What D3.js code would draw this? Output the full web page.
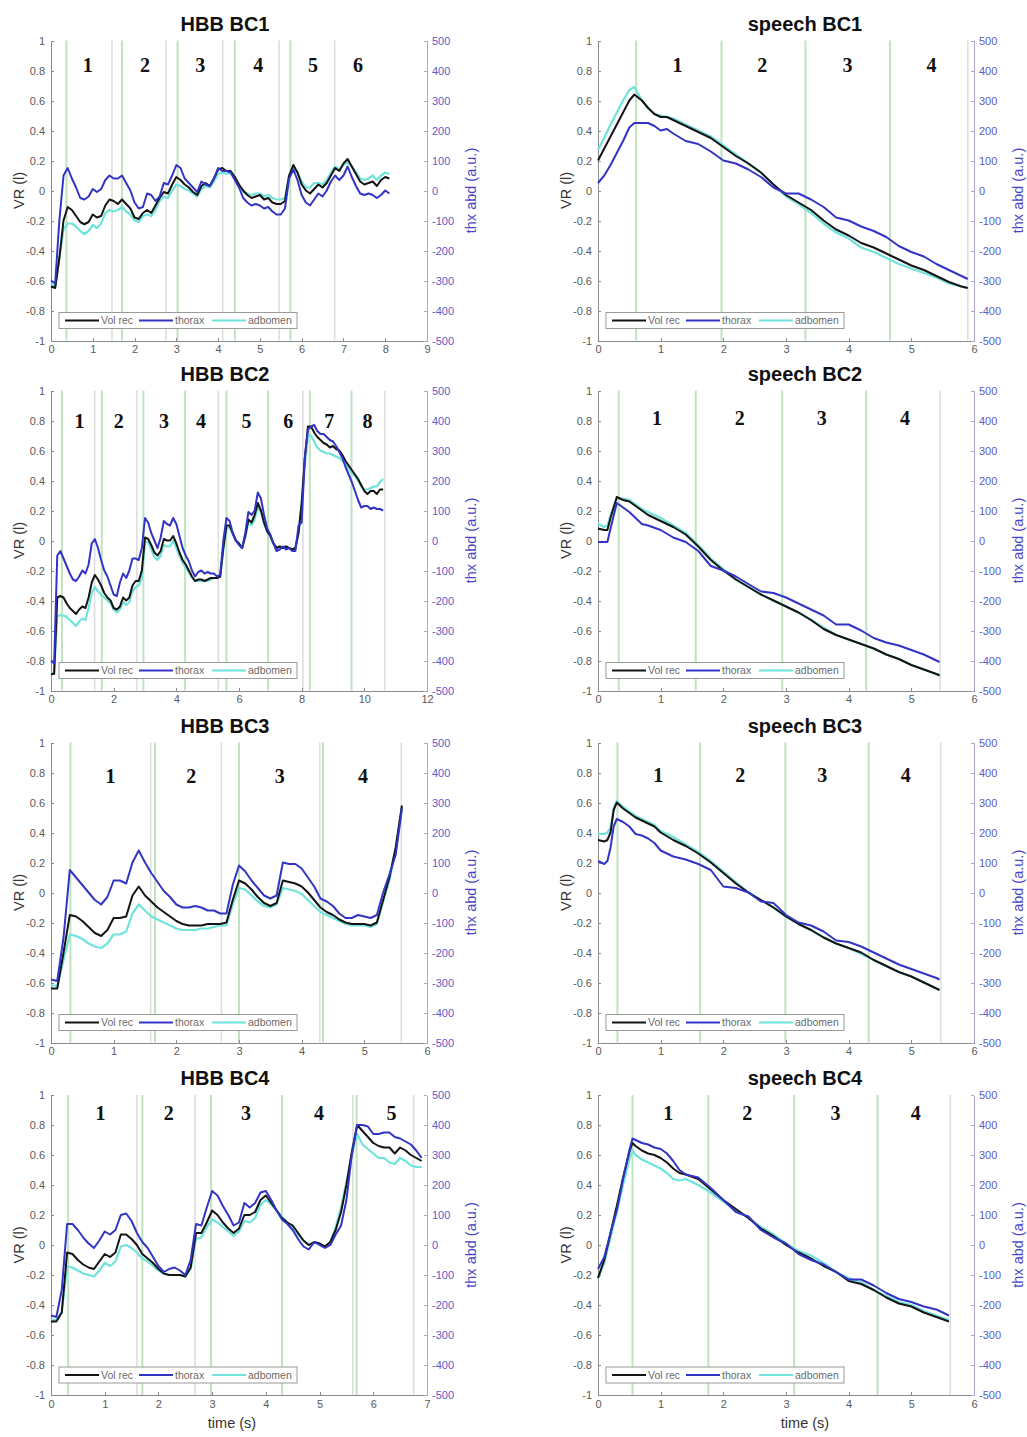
<!DOCTYPE html>
<meta charset="utf-8">
<style>

body {
  margin: 0;
  background: #fff;
  font-family: "Liberation Sans", Arial, sans-serif;
}

.axis path,
.axis line {
  fill: none;
  shape-rendering: crispEdges;
}

</style>
<body>
<script src="https://d3js.org/d3.v7.min.js"></script>
<script>

// ---- data (VR in litres on the left axis, thorax / abdomen in a.u. on the right axis) ----

var vrTicks = [-1, -0.8, -0.6, -0.4, -0.2, 0, 0.2, 0.4, 0.6, 0.8, 1];
var auTicks = [-500, -400, -300, -200, -100, 0, 100, 200, 300, 400, 500];
var seriesNames = ["Vol rec", "thorax", "adbomen"];

// HBB BC1, sampled every 0.1 s
var hbb1Vol = [-0.64, -0.65, -0.45, -0.2, -0.11, -0.13, -0.17, -0.21, -0.225, -0.21,
  -0.16, -0.18, -0.17, -0.1, -0.06, -0.07, -0.09, -0.06, -0.09, -0.12,
  -0.18, -0.19, -0.15, -0.13, -0.15, -0.1, -0.05, -0.01, -0.02, 0.04,
  0.09, 0.07, 0.04, 0.02, -0.01, -0.03, 0.03, 0.05, 0.03, 0.08,
  0.14, 0.15, 0.13, 0.13, 0.09, 0.04, 0.0, -0.03, -0.05, -0.04,
  -0.03, -0.06, -0.05, -0.08, -0.09, -0.09, -0.07, 0.1, 0.17, 0.12,
  0.04, 0.0, -0.02, 0.01, 0.04, 0.02, 0.05, 0.1, 0.15, 0.13,
  0.18, 0.21, 0.16, 0.11, 0.06, 0.04, 0.05, 0.06, 0.03, 0.07,
  0.09, 0.08];
var hbb1Thx = [-300, -310, -100, 50, 75, 40, 10, -25, -30, -20,
  5, -5, 5, 35, 50, 40, 40, 50, 25, 0,
  -40, -60, -55, -10, -15, -35, -20, 25, 20, 50,
  85, 75, 40, 25, 10, -5, 30, 20, 15, 40,
  75, 65, 65, 60, 35, 10, -25, -40, -50, -45,
  -50, -60, -55, -70, -80, -80, -60, 40, 70, 35,
  -15, -40, -50, -30, -10, -20, 0, 30, 50, 35,
  50, 80, 45, 15, -10, -15, -10, -15, -25, -15,
  0, -10];
var hbb1Abd = [-310, -320, -225, -130, -110, -110, -120, -135, -145, -135,
  -115, -125, -110, -75, -65, -70, -65, -55, -70, -80,
  -100, -105, -85, -80, -85, -65, -35, -20, -25, 0,
  20, 15, 5, 0, -10, -20, 5, 15, 10, 30,
  55, 60, 55, 60, 40, 15, -5, -10, -15, -10,
  -10, -20, -15, -25, -30, -30, -25, 50, 75, 60,
  30, 10, 10, 25, 25, 20, 35, 60, 80, 70,
  85, 95, 80, 60, 40, 35, 40, 50, 35, 50,
  60, 55];

// HBB BC2, every 0.1 s
var hbb2Vol = [-0.89, -0.89, -0.38, -0.37, -0.38, -0.42, -0.45, -0.47, -0.49, -0.46,
  -0.44, -0.45, -0.38, -0.28, -0.23, -0.26, -0.3, -0.35, -0.38, -0.4,
  -0.45, -0.46, -0.44, -0.38, -0.4, -0.38, -0.3, -0.27, -0.27, -0.2,
  0.02, 0.01, -0.03, -0.08, -0.1, -0.07, 0.01, 0.0, 0.0, 0.03,
  -0.02, -0.08, -0.13, -0.16, -0.2, -0.24, -0.27, -0.26, -0.26, -0.27,
  -0.26, -0.25, -0.25, -0.25, -0.24, -0.05, 0.1, 0.1, 0.05, 0.0,
  -0.02, -0.05, 0.03, 0.14, 0.12, 0.17, 0.25, 0.2, 0.12, 0.06,
  0.03, -0.02, -0.05, -0.04, -0.05, -0.04, -0.05, -0.06, -0.05, 0.05,
  0.25, 0.55, 0.76, 0.76, 0.72, 0.69, 0.67, 0.65, 0.64, 0.62,
  0.63, 0.61, 0.6, 0.57, 0.53, 0.5, 0.47, 0.44, 0.41, 0.37,
  0.33, 0.31, 0.33, 0.33, 0.31, 0.34, 0.34];
var hbb2Thx = [-400, -410, -50, -35, -60, -85, -110, -130, -135, -120,
  -100, -110, -80, -10, 5, -25, -65, -100, -120, -150,
  -180, -185, -140, -110, -125, -100, -60, -60, -65, -25,
  75, 60, 25, 0, -25, 10, 65, 55, 50, 75,
  55, 15, -25, -50, -70, -100, -120, -105, -100, -110,
  -105, -110, -110, -120, -115, 0, 75, 65, 25, 0,
  -15, -25, 25, 95, 85, 100, 160, 140, 85, 40,
  20, -10, -35, -30, -20, -30, -25, -35, -35, 50,
  60, 275, 370, 380, 385, 365, 355, 355, 345, 335,
  330, 315, 295, 275, 245, 220, 195, 165, 135, 110,
  115, 115, 105, 110, 105, 105, 100];
var hbb2Abd = [-440, -440, -250, -250, -250, -255, -265, -275, -285, -270,
  -260, -265, -225, -175, -155, -170, -180, -190, -200, -210,
  -230, -240, -230, -205, -215, -205, -170, -155, -150, -125,
  -5, -5, -30, -55, -65, -50, -15, -20, -20, 0,
  -25, -50, -75, -90, -105, -125, -135, -135, -135, -135,
  -135, -130, -125, -125, -120, -30, 40, 45, 20, 0,
  -10, -25, 10, 60, 50, 70, 110, 95, 55, 30,
  15, -10, -25, -20, -25, -20, -25, -30, -25, 25,
  125, 250, 350, 350, 330, 310, 300, 295, 290, 290,
  285, 280, 275, 265, 255, 240, 225, 215, 200, 180,
  170, 170, 175, 180, 180, 195, 205];

// HBB BC3, every 0.1 s
var hbb3Vol = [-0.64, -0.64, -0.4, -0.15, -0.16, -0.19, -0.23, -0.27, -0.29, -0.25,
  -0.17, -0.17, -0.16, -0.02, 0.04, -0.02, -0.06, -0.1, -0.13, -0.16,
  -0.19, -0.21, -0.22, -0.22, -0.22, -0.21, -0.21, -0.21, -0.2, -0.05,
  0.08, 0.06, 0.02, -0.03, -0.07, -0.09, -0.07, 0.08, 0.07, 0.06,
  0.04, 0.0, -0.05, -0.1, -0.13, -0.15, -0.18, -0.2, -0.21, -0.21,
  -0.21, -0.22, -0.2, -0.05, 0.1, 0.3, 0.58];
var hbb3Thx = [-290, -295, -150, 75, 50, 25, 0, -25, -40, -15,
  40, 40, 30, 100, 140, 100, 65, 35, 5, -15,
  -40, -50, -50, -45, -50, -60, -60, -70, -70, 25,
  90, 70, 40, 15, -10, -20, -10, 100, 95, 95,
  80, 50, 20, -20, -30, -45, -70, -85, -85, -75,
  -80, -85, -75, 0, 60, 125, 280];
var hbb3Abd = [-310, -310, -225, -140, -145, -155, -170, -180, -185, -170,
  -140, -140, -130, -70, -40, -60, -80, -90, -100, -110,
  -120, -125, -125, -125, -120, -120, -115, -110, -110, -40,
  15, 10, -10, -30, -45, -50, -40, 15, 10, 5,
  -5, -25, -45, -65, -75, -85, -95, -105, -110, -110,
  -110, -115, -105, -30, 40, 140, 285];

// HBB BC4, every 0.1 s
var hbb4Vol = [-0.51, -0.51, -0.45, -0.05, -0.06, -0.1, -0.13, -0.15, -0.16, -0.11,
  -0.06, -0.08, -0.05, 0.07, 0.07, 0.04, 0.0, -0.06, -0.09, -0.12,
  -0.16, -0.19, -0.2, -0.2, -0.2, -0.21, -0.15, 0.08, 0.08, 0.15,
  0.23, 0.2, 0.15, 0.11, 0.08, 0.11, 0.2, 0.2, 0.22, 0.3,
  0.33, 0.28, 0.23, 0.18, 0.15, 0.13, 0.08, 0.03, 0.0, 0.02,
  0.01, -0.01, 0.02, 0.1, 0.22, 0.4, 0.62, 0.8, 0.76, 0.72,
  0.68, 0.66, 0.65, 0.65, 0.61, 0.65, 0.63, 0.6, 0.58, 0.56];
var hbb4Thx = [-235, -240, -150, 70, 70, 50, 25, 5, -10, 15,
  45, 35, 50, 100, 105, 80, 40, 10, -10, -40,
  -70, -90, -80, -75, -85, -100, -50, 70, 65, 125,
  180, 165, 130, 100, 65, 75, 140, 125, 140, 175,
  180, 150, 115, 85, 70, 50, 20, -5, -15, 10,
  0, -10, 0, 35, 65, 150, 300, 400, 400, 395,
  370, 370, 375, 375, 360, 355, 345, 335, 315, 290];
var hbb4Abd = [-250, -250, -225, -70, -75, -85, -95, -100, -105, -85,
  -60, -70, -55, -5, 0, -10, -25, -45, -55, -70,
  -85, -95, -100, -100, -100, -105, -80, 20, 25, 60,
  85, 75, 60, 45, 30, 45, 80, 75, 90, 135,
  150, 135, 115, 95, 75, 60, 35, 15, 0, 10,
  5, -5, 10, 60, 125, 210, 300, 370, 335, 320,
  305, 290, 290, 275, 270, 290, 280, 265, 260, 260];

// speech BC1..BC4, uneven sample times
var sp1T = [0, 0.1, 0.2, 0.3, 0.4, 0.5, 0.58, 0.7, 0.8, 0.9, 1.0, 1.1, 1.2, 1.4, 1.6, 1.8, 2.0, 2.2, 2.4,
  2.6, 2.8, 3.0, 3.2, 3.4, 3.6, 3.8, 4.0, 4.2, 4.4, 4.6, 4.8, 5.0, 5.2, 5.4, 5.6, 5.8, 5.9];
var sp1Vol = [0.2, 0.28, 0.36, 0.44, 0.52, 0.6, 0.64, 0.6, 0.55, 0.51, 0.49, 0.49, 0.47, 0.43, 0.39, 0.35, 0.29, 0.23, 0.18,
  0.12, 0.04, -0.03, -0.08, -0.13, -0.2, -0.26, -0.3, -0.35, -0.38, -0.42, -0.46, -0.5, -0.53, -0.57, -0.61, -0.64, -0.65];
var sp1Thx = [25, 50, 85, 125, 165, 210, 225, 225, 225, 215, 200, 205, 190, 165, 155, 130, 100, 90, 70,
  45, 10, -10, -10, -30, -55, -90, -100, -120, -135, -155, -185, -205, -220, -245, -265, -285, -295];
var sp1Abd = [135, 175, 220, 260, 300, 335, 345, 300, 275, 255, 250, 245, 240, 220, 200, 180, 150, 120, 90,
  60, 20, -20, -45, -75, -110, -140, -160, -190, -205, -225, -245, -260, -275, -290, -310, -320, -325];

var sp2T = [0, 0.1, 0.15, 0.2, 0.3, 0.4, 0.5, 0.6, 0.7, 0.8, 1.0, 1.2, 1.4, 1.6, 1.8, 2.0, 2.2,
  2.4, 2.6, 2.8, 3.0, 3.2, 3.4, 3.6, 3.8, 4.0, 4.2, 4.4, 4.6, 4.8, 5.0, 5.2, 5.4, 5.45];
var sp2Vol = [0.08, 0.07, 0.07, 0.15, 0.29, 0.27, 0.26, 0.23, 0.2, 0.17, 0.13, 0.09, 0.04, -0.04, -0.13, -0.2, -0.26,
  -0.31, -0.36, -0.4, -0.44, -0.48, -0.53, -0.59, -0.63, -0.66, -0.69, -0.72, -0.76, -0.79, -0.83, -0.86, -0.89, -0.9];
var sp2Thx = [-5, -5, -5, 40, 125, 110, 95, 75, 55, 50, 35, 10, -5, -35, -85, -100, -120,
  -145, -170, -175, -190, -210, -230, -250, -280, -280, -300, -325, -340, -350, -365, -380, -400, -405];
var sp2Abd = [55, 45, 50, 85, 140, 140, 135, 120, 105, 95, 75, 50, 25, -15, -60, -95, -130,
  -155, -180, -200, -220, -240, -265, -290, -315, -330, -345, -360, -380, -395, -415, -430, -445, -445];

var sp3T = [0, 0.1, 0.15, 0.2, 0.25, 0.3, 0.4, 0.5, 0.6, 0.7, 0.8, 0.9, 1.0, 1.2, 1.4, 1.6, 1.8, 2.0,
  2.2, 2.4, 2.6, 2.8, 3.0, 3.2, 3.4, 3.6, 3.8, 4.0, 4.2, 4.4, 4.6, 4.8, 5.0, 5.2, 5.4, 5.45];
var sp3Vol = [0.35, 0.34, 0.35, 0.4, 0.55, 0.6, 0.56, 0.53, 0.5, 0.48, 0.46, 0.44, 0.4, 0.35, 0.31, 0.26, 0.2, 0.13,
  0.06, 0.0, -0.05, -0.1, -0.16, -0.21, -0.25, -0.3, -0.34, -0.37, -0.4, -0.45, -0.49, -0.53, -0.56, -0.6, -0.64, -0.65];
var sp3Thx = [105, 95, 105, 150, 220, 245, 235, 220, 195, 190, 180, 165, 140, 120, 110, 95, 75, 20,
  15, 0, -30, -35, -75, -100, -110, -130, -160, -165, -180, -200, -220, -240, -255, -270, -285, -290];
var sp3Abd = [195, 195, 200, 215, 280, 305, 285, 270, 255, 245, 235, 225, 205, 185, 160, 135, 105, 70,
  35, 0, -25, -50, -80, -105, -125, -150, -170, -185, -205, -225, -245, -265, -280, -300, -320, -325];

var sp4T = [0, 0.1, 0.2, 0.3, 0.4, 0.5, 0.55, 0.6, 0.7, 0.8, 0.9, 1.0, 1.1, 1.2, 1.3, 1.4, 1.6, 1.8, 2.0,
  2.2, 2.4, 2.6, 2.8, 3.0, 3.2, 3.4, 3.6, 3.8, 4.0, 4.2, 4.4, 4.6, 4.8, 5.0, 5.2, 5.4, 5.6];
var sp4Vol = [-0.22, -0.1, 0.08, 0.26, 0.45, 0.62, 0.68, 0.66, 0.63, 0.61, 0.6, 0.58, 0.55, 0.51, 0.48, 0.47, 0.44, 0.37, 0.3,
  0.24, 0.18, 0.11, 0.06, 0.0, -0.05, -0.09, -0.14, -0.18, -0.24, -0.26, -0.3, -0.35, -0.39, -0.41, -0.45, -0.48, -0.51];
var sp4Thx = [-80, -40, 40, 115, 220, 315, 355, 350, 340, 335, 325, 320, 305, 280, 250, 235, 225, 190, 150,
  110, 95, 50, 25, 5, -30, -50, -65, -90, -115, -115, -135, -160, -180, -190, -205, -215, -235];
var sp4Abd = [-110, -60, 25, 110, 200, 285, 315, 300, 285, 275, 265, 255, 240, 220, 215, 220, 200, 175, 145,
  115, 90, 60, 35, 5, -20, -35, -60, -90, -110, -125, -150, -170, -190, -200, -220, -235, -250];

// breath cycle markers (s) and numbered segments
var hbb1Green = [0.37, 1.70, 3.03, 4.40, 5.73], hbb1Gray = [1.46, 2.75, 4.11, 5.46, 6.79];
var hbb1Nums = [0.88, 2.25, 3.57, 4.96, 6.27, 7.35];
var hbb2Green = [0.35, 1.62, 2.95, 4.28, 5.6, 6.93, 8.26, 9.59], hbb2Gray = [1.39, 2.74, 5.34, 8.04, 10.65];
var hbb2Nums = [0.91, 2.16, 3.61, 4.79, 6.24, 7.57, 8.88, 10.1];
var hbb3Green = [0.31, 1.66, 3.0, 4.34], hbb3Gray = [1.59, 2.72, 4.29, 5.59];
var hbb3Nums = [0.95, 2.24, 3.65, 4.98];
var hbb4Green = [0.32, 1.7, 2.98, 4.3, 5.69], hbb4Gray = [1.6, 2.68, 5.62, 6.75];
var hbb4Nums = [0.92, 2.19, 3.63, 4.99, 6.34];
var sp1Green = [0.61, 1.97, 3.31, 4.66], sp1Gray = [5.9], sp1Nums = [1.27, 2.62, 3.98, 5.32];
var sp2Green = [0.33, 1.56, 2.94, 4.28], sp2Gray = [5.46], sp2Nums = [0.94, 2.26, 3.57, 4.9];
var sp3Green = [0.31, 1.63, 2.99, 4.32], sp3Gray = [5.47], sp3Nums = [0.96, 2.27, 3.58, 4.91];
var sp4Green = [0.55, 1.76, 3.13, 4.46], sp4Gray = [5.62], sp4Nums = [1.12, 2.38, 3.79, 5.07];

function steps(n) { return d3.range(n).map(function(i) { return i / 10; }); }

var panels = [
  {title: "HBB BC1", col: 0, row: 0, xMax: 9, xStep: 1, t: steps(hbb1Vol.length), vol: hbb1Vol, thx: hbb1Thx, abd: hbb1Abd, green: hbb1Green, gray: hbb1Gray, nums: hbb1Nums, numY: 0.84},
  {title: "speech BC1", col: 1, row: 0, xMax: 6, xStep: 1, t: sp1T, vol: sp1Vol, thx: sp1Thx, abd: sp1Abd, green: sp1Green, gray: sp1Gray, nums: sp1Nums, numY: 0.84},
  {title: "HBB BC2", col: 0, row: 1, xMax: 12, xStep: 2, t: steps(hbb2Vol.length), vol: hbb2Vol, thx: hbb2Thx, abd: hbb2Abd, green: hbb2Green, gray: hbb2Gray, nums: hbb2Nums, numY: 0.8},
  {title: "speech BC2", col: 1, row: 1, xMax: 6, xStep: 1, t: sp2T, vol: sp2Vol, thx: sp2Thx, abd: sp2Abd, green: sp2Green, gray: sp2Gray, nums: sp2Nums, numY: 0.815},
  {title: "HBB BC3", col: 0, row: 2, xMax: 6, xStep: 1, t: steps(hbb3Vol.length), vol: hbb3Vol, thx: hbb3Thx, abd: hbb3Abd, green: hbb3Green, gray: hbb3Gray, nums: hbb3Nums, numY: 0.78},
  {title: "speech BC3", col: 1, row: 2, xMax: 6, xStep: 1, t: sp3T, vol: sp3Vol, thx: sp3Thx, abd: sp3Abd, green: sp3Green, gray: sp3Gray, nums: sp3Nums, numY: 0.785},
  {title: "HBB BC4", col: 0, row: 3, xMax: 7, xStep: 1, t: steps(hbb4Vol.length), vol: hbb4Vol, thx: hbb4Thx, abd: hbb4Abd, green: hbb4Green, gray: hbb4Gray, nums: hbb4Nums, numY: 0.88},
  {title: "speech BC4", col: 1, row: 3, xMax: 6, xStep: 1, t: sp4T, vol: sp4Vol, thx: sp4Thx, abd: sp4Abd, green: sp4Green, gray: sp4Gray, nums: sp4Nums, numY: 0.877}
];

// ---- layout ----
var W = 1027, H = 1437;
var plotW = 376, plotH = 300;
var colX = [51, 598];
var rowY = [40.5, 390.5, 742.5, 1095];
var titleX = [225, 805];

var cVol = "#141414", cThx = "#3434c4", cAbd = "#6fe3dc";
var cGreen = "#bfe3bf", cGray = "#dedede";

var svg = d3.select("body").append("svg")
    .attr("width", W)
    .attr("height", H);

panels.forEach(function(p) {
  var g = svg.append("g")
      .attr("transform", "translate(" + colX[p.col] + "," + rowY[p.row] + ")");

  var x = d3.scaleLinear().domain([0, p.xMax]).range([0, plotW]);
  var yL = d3.scaleLinear().domain([-1, 1]).range([plotH, 0]);
  var yR = d3.scaleLinear().domain([-500, 500]).range([plotH, 0]);

  // segment markers
  g.selectAll(".gray").data(p.gray).enter().append("line")
      .attr("x1", function(d) { return x(d); }).attr("x2", function(d) { return x(d); })
      .attr("y1", 0).attr("y2", plotH)
      .attr("stroke", cGray).attr("stroke-width", 1.6);
  g.selectAll(".green").data(p.green).enter().append("line")
      .attr("x1", function(d) { return x(d); }).attr("x2", function(d) { return x(d); })
      .attr("y1", 0).attr("y2", plotH)
      .attr("stroke", cGreen).attr("stroke-width", 2);

  // axes
  var ax = g.append("g").attr("class", "axis")
      .attr("transform", "translate(0," + plotH + ")")
      .call(d3.axisBottom(x).tickValues(d3.range(0, p.xMax + 0.01, p.xStep))
        .tickSize(-3).tickSizeOuter(0).tickPadding(5).tickFormat(d3.format("d")));
  var al = g.append("g").attr("class", "axis")
      .call(d3.axisLeft(yL).tickValues(vrTicks).tickSize(-3).tickSizeOuter(0).tickPadding(6)
        .tickFormat(function(d) { return String(Math.round(d * 10) / 10); }));
  var ar = g.append("g").attr("class", "axis")
      .attr("transform", "translate(" + plotW + ",0)")
      .call(d3.axisRight(yR).tickValues(auTicks).tickSize(-3).tickSizeOuter(0).tickPadding(5)
        .tickFormat(function(d) { return String(d); }));

  [ax, al].forEach(function(a) {
    a.select(".domain").attr("stroke", "#8a8a8a");
    a.selectAll("line").attr("stroke", "#8a8a8a");
    a.selectAll("text").attr("fill", "#5a5a5a").style("font-size", "11px")
      .style("font-family", "'Liberation Sans', Arial, sans-serif");
  });
  ar.select(".domain").attr("stroke", "#a9a9d6");
  ar.selectAll("line").attr("stroke", "#a9a9d6");
  ar.selectAll("text").attr("fill", "#5b5bc6").style("font-size", "11px")
    .style("font-family", "'Liberation Sans', Arial, sans-serif");

  // traces
  var lineL = d3.line().x(function(d, i) { return x(p.t[i]); }).y(function(d) { return yL(d); });
  var lineR = d3.line().x(function(d, i) { return x(p.t[i]); }).y(function(d) { return yR(d); });

  g.append("path").datum(p.abd).attr("d", lineR)
      .attr("fill", "none").attr("stroke", cAbd).attr("stroke-width", 2.2).attr("stroke-linejoin", "round");
  g.append("path").datum(p.vol).attr("d", lineL)
      .attr("fill", "none").attr("stroke", cVol).attr("stroke-width", 2).attr("stroke-linejoin", "round");
  g.append("path").datum(p.thx).attr("d", lineR)
      .attr("fill", "none").attr("stroke", cThx).attr("stroke-width", 2).attr("stroke-linejoin", "round");

  // segment numbers
  g.selectAll(".num").data(p.nums).enter().append("text")
      .attr("x", function(d) { return x(d); })
      .attr("y", yL(p.numY))
      .attr("dy", "0.35em")
      .attr("text-anchor", "middle")
      .style("font-family", "'Liberation Serif', 'Times New Roman', serif")
      .style("font-weight", "bold")
      .style("font-size", "20px")
      .attr("fill", "#111")
      .text(function(d, i) { return i + 1; });

  // legend
  var lg = g.append("g").attr("transform", "translate(8," + (plotH - 28) + ")");
  lg.append("rect")
      .attr("width", 238).attr("height", 16)
      .attr("fill", "#fff").attr("stroke", "#9a9a9a").attr("stroke-width", 1);
  var lx = [6, 80, 153];
  [cVol, cThx, cAbd].forEach(function(c, i) {
    lg.append("line")
        .attr("x1", lx[i]).attr("x2", lx[i] + 34)
        .attr("y1", 8).attr("y2", 8)
        .attr("stroke", c).attr("stroke-width", 2.2);
    lg.append("text")
        .attr("x", lx[i] + 36).attr("y", 8).attr("dy", "0.35em")
        .style("font-size", "10.5px").attr("fill", "#6a6a6a")
        .text(seriesNames[i]);
  });

  // titles and axis labels
  svg.append("text")
      .attr("x", titleX[p.col]).attr("y", rowY[p.row] - 10)
      .attr("text-anchor", "middle")
      .style("font-size", "20px").style("font-weight", "bold")
      .attr("fill", "#111")
      .text(p.title);

  g.append("text")
      .attr("transform", "translate(-32," + (plotH / 2) + ") rotate(-90)")
      .attr("text-anchor", "middle").attr("dy", "0.35em")
      .style("font-size", "14.5px").attr("fill", "#333")
      .text("VR (l)");

  g.append("text")
      .attr("transform", "translate(" + (plotW + 44) + "," + (plotH / 2) + ") rotate(-90)")
      .attr("text-anchor", "middle").attr("dy", "0.35em")
      .style("font-size", "14.5px").attr("fill", "#4646c4")
      .text("thx abd (a.u.)");

  if (p.row === 3) {
    g.append("text")
        .attr("x", titleX[p.col] - colX[p.col] + (p.col === 0 ? 7 : 0))
        .attr("y", plotH + 33)
        .attr("text-anchor", "middle")
        .style("font-size", "14.5px").attr("fill", "#333")
        .text("time (s)");
  }
});

</script>
</body>
